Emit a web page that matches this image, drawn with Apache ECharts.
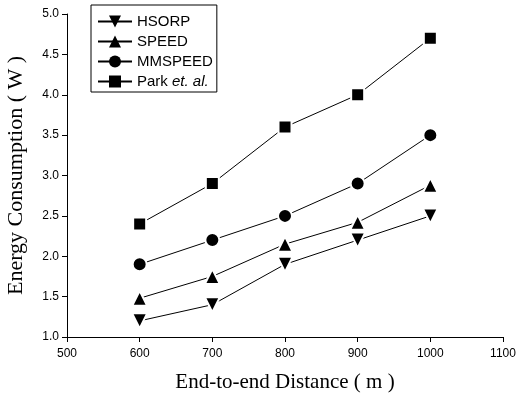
<!DOCTYPE html>
<html><head><meta charset="utf-8">
<script src="https://cdn.jsdelivr.net/npm/echarts@6/dist/echarts.min.js"></script>
<style>html,body{margin:0;padding:0;background:#fff}#c{width:516px;height:394px}</style>
</head><body><div id="c"></div>
<script>
const distances = [600, 700, 800, 900, 1000];
const hsorp = [1.2, 1.4, 1.9, 2.2, 2.5];
const speed = [1.48, 1.75, 2.15, 2.42, 2.88];
const mmspeed = [1.9, 2.2, 2.5, 2.9, 3.5];
const park = [2.4, 2.9, 3.6, 4.0, 4.7];
const seriesNames = ['HSORP', 'SPEED', 'MMSPEED', 'Park et. al.'];

const chart = echarts.init(document.getElementById('c'));
function mk(name, vals, symbol, size, rotate) {
  return {
    name, type: 'line', data: distances.map((d, i) => [d, vals[i]]),
    symbol, symbolSize: size, symbolRotate: rotate || 0,
    lineStyle: { color: '#000', width: 1 },
    itemStyle: { color: '#000', borderColor: '#fff', borderWidth: 2 },
    emphasis: { disabled: true }, animation: false
  };
}
chart.setOption({
  animation: false,
  grid: { left: 67, right: 13, top: 14, bottom: 57, outerBoundsMode: 'none', containLabel: false },
  legend: {
    left: 91, top: 5, orient: 'vertical', itemGap: 5, itemWidth: 34, itemHeight: 15,
    padding: [9, 4, 3, 6],
    borderColor: '#000', borderWidth: 1,
    data: seriesNames,
    itemStyle: { borderWidth: 0 },
    textStyle: { fontFamily: 'Liberation Sans, Arial', fontSize: 15, color: '#000',
      rich: { i: { fontStyle: 'italic', fontFamily: 'Liberation Sans, Arial', fontSize: 15, color: '#000' } } },
    formatter: n => n === 'Park et. al.' ? 'Park {i|et. al.}' : n
  },
  xAxis: {
    type: 'value', min: 500, max: 1100, interval: 100,
    name: 'End-to-end Distance ( m )', nameLocation: 'middle', nameGap: 35,
    nameTextStyle: { fontFamily: 'Liberation Serif, Times New Roman', fontSize: 21, color: '#000' },
    axisLine: { lineStyle: { color: '#000', width: 1 } },
    axisTick: { inside: false, length: 5, lineStyle: { color: '#000' } },
    axisLabel: { fontFamily: 'Liberation Sans, Arial', fontSize: 12, color: '#000', margin: 11,
      formatter: v => String(v) },
    splitLine: { show: false }
  },
  yAxis: {
    type: 'value', min: 1, max: 5, interval: 0.5,
    name: 'Energy Consumption ( W )', nameLocation: 'middle', nameGap: 40,
    nameTextStyle: { fontFamily: 'Liberation Serif, Times New Roman', fontSize: 22, color: '#000' },
    axisLine: { show: true, lineStyle: { color: '#000', width: 1 } },
    axisTick: { show: true, inside: false, length: 5, lineStyle: { color: '#000' } },
    axisLabel: { fontFamily: 'Liberation Sans, Arial', fontSize: 12, color: '#000', margin: 8,
      formatter: v => v.toFixed(1) },
    splitLine: { show: false }
  },
  series: [
    mk('HSORP', hsorp, 'triangle', 15, 180),
    mk('SPEED', speed, 'triangle', 15),
    mk('MMSPEED', mmspeed, 'circle', 14),
    mk('Park et. al.', park, 'rect', 13)
  ]
});
</script></body></html>
